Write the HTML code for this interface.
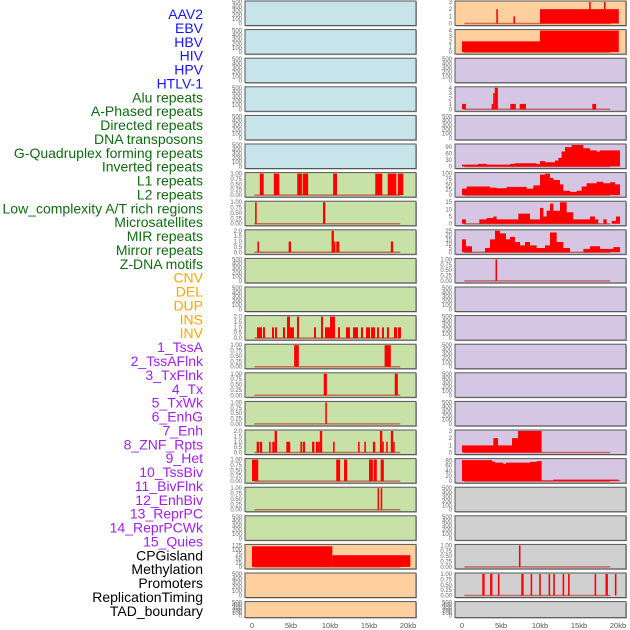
<!DOCTYPE html>
<html><head><meta charset="utf-8"><style>
body{margin:0;background:#fff;width:630px;height:630px;overflow:hidden}
svg{display:block}
</style></head><body>
<svg id="chart" width="630" height="630" viewBox="0 0 630 630" xmlns="http://www.w3.org/2000/svg"></svg>
<script>
const trackLabels=["AAV2","EBV","HBV","HIV","HPV","HTLV-1","Alu repeats","A-Phased repeats","Directed repeats","DNA transposons","G-Quadruplex forming repeats","Inverted repeats","L1 repeats","L2 repeats","Low_complexity A/T rich regions","Microsatellites","MIR repeats","Mirror repeats","Z-DNA motifs","CNV","DEL","DUP","INS","INV","1_TssA","2_TssAFlnk","3_TxFlnk","4_Tx","5_TxWk","6_EnhG","7_Enh","8_ZNF_Rpts","9_Het","10_TssBiv","11_BivFlnk","12_EnhBiv","13_ReprPC","14_ReprPCWk","15_Quies","CPGisland","Methylation","Promoters","ReplicationTiming","TAD_boundary"];
const labelGroupSizes=[6,13,5,15,5];
const labelGroupColors=["#1414ff","#106b10","#ffa500","#a020f0","#000000"];
const xTicks=[0,5,10,15,20];
const xTickLabels=["0","5kb","10kb","15kb","20kb"];
const leftColors=["#c8e4eb","#c8e4eb","#c8e4eb","#c8e4eb","#c8e4eb","#c8e4eb","#c8e1a6","#c8e1a6","#c8e1a6","#c8e1a6","#c8e1a6","#c8e1a6","#c8e1a6","#c8e1a6","#c8e1a6","#c8e1a6","#c8e1a6","#c8e1a6","#c8e1a6","#ffcf9d","#ffcf9d","#ffcf9d"];
const rightColors=["#ffcf9d","#ffcf9d","#d5c7e3","#d5c7e3","#d5c7e3","#d5c7e3","#d5c7e3","#d5c7e3","#d5c7e3","#d5c7e3","#d5c7e3","#d5c7e3","#d5c7e3","#d5c7e3","#d5c7e3","#d5c7e3","#d5c7e3","#d0d0d0","#d0d0d0","#d0d0d0","#d0d0d0","#d0d0d0"];
// left bars [start kb, end kb, value]
const L6=[[1.0,1.5,1],[2.8,3.5,1],[5.8,6.4,1],[6.5,7.2,1],[10.4,10.9,1],[15.8,16.7,1],[17.4,18.5,1],[18.7,19.4,1]];
const L7=[[0.4,0.6,1],[9.1,9.4,1]];
const L8=[[0.7,0.9,1],[4.7,5.0,1],[10.2,10.5,2],[10.5,10.6,1],[10.8,11.2,1],[17.8,18.1,1]];
const L11=[[0.64,1.28,1],[1.41,1.67,1],[2.56,2.82,1],[2.95,3.2,1],[3.97,4.23,1],[4.49,4.87,2],[4.87,5.38,1],[5.77,6.03,2],[7.95,8.2,1],[8.85,9.1,2],[9.36,10.0,1],[10.0,10.26,2],[10.26,10.64,2],[11.03,11.28,1],[12.05,12.56,1],[12.95,13.59,1],[13.97,14.23,1],[14.62,15.13,1],[15.26,15.77,1],[16.03,16.28,1],[16.67,16.92,1],[17.3,17.56,1],[18.2,18.59,1],[18.72,19.1,1]];
const L12=[[5.4,6.0,1],[17.0,17.8,1]];
const L13=[[9.2,9.6,1],[18.3,18.7,1]];
const L14=[[9.4,9.6,1]];
const L15=[[0.6,0.9,1],[1.0,1.3,1],[2.2,2.4,1],[2.6,2.9,1],[2.9,3.2,2],[4.4,4.9,1],[6.2,6.4,1],[6.5,6.8,1],[7.7,8.0,1],[8.2,8.5,1],[8.5,8.7,1],[8.7,9.0,2],[10.4,10.6,1],[13.6,13.8,1],[14.4,14.6,1],[15.5,15.8,1],[16.4,16.7,2],[16.7,16.9,1],[17.2,17.4,1],[17.8,18.1,2],[18.1,18.3,1]];
const L16=[[0.0,0.8,1],[10.8,11.3,1],[11.8,12.2,1],[15.0,15.5,1],[15.6,16.0,1],[16.5,16.9,1]];
const L17=[[16.1,16.3,1],[16.5,16.7,1]];
const L19=[[0.0,10.3,120],[10.3,20.3,68]];
// right bars
const R0=[[4.4,4.6,2],[6.6,6.8,1],[10.0,20.1,2],[16.3,16.5,3],[18.2,18.4,3]];
const R1=[[0.0,10.0,2],[10.0,20.1,4]];
const R3=[[0.0,0.5,1],[3.8,4.1,1],[4.0,4.2,3],[4.2,4.6,4],[6.2,6.9,1],[7.4,8.2,1],[16.7,17.2,1]];
const R9=[[4.3,4.5,1]];
const R19=[[7.3,7.5,1]];
const R20=[[2.6,2.9,1],[3.6,3.9,1],[4.6,4.8,1],[7.6,7.9,1],[8.8,9.0,1],[9.9,10.1,1],[11.1,11.3,1],[11.7,11.9,1],[12.9,13.1,1],[13.6,13.8,1],[17.0,17.2,1],[18.4,18.7,1],[19.6,19.8,1]];
// right step series: edges (kb) and values
const R5edges=[0,2.05,3.16,6.15,6.79,9.57,10.0,10.64,11.28,11.92,12.35,12.77,13.2,14.06,15.56,16.41,17.27,17.69,18.33,20.26];
const R5vals=[9,12,9,12,15,11,25,20,20,28,40,70,90,100,85,75,70,75,75];
const R6edges=[0,0.6,3.59,4.44,5.73,8.29,9.15,10.0,10.64,11.28,11.71,12.56,12.99,13.85,14.7,15.34,15.98,17.27,18.12,18.97,19.62,20.26];
const R6vals=[30,40,35,32,38,30,45,95,100,80,70,50,20,15,20,40,55,62,55,60,50];
const R7edges=[0,0.51,2.22,3.16,4.02,4.44,7.22,8.72,10.0,10.43,10.85,11.28,11.71,12.56,13.42,14.27,16.41,17.05,17.48,18.12,18.55,19.19,19.74,20.26];
const R7vals=[3,0,3,4,5,3,7,3,11,5,9,14,9,15,8,3,5,3,0,3,0,2,5];
const R8edges=[0,0.51,1.28,2.95,3.59,4.23,4.87,5.64,6.15,6.79,7.44,8.08,8.72,9.57,10.64,11.28,12.14,12.99,13.85,15.56,16.41,17.69,19.4,20.26];
const R8vals=[15,7,0,5,15,25,22,15,18,12,8,12,8,5,8,23,12,5,0,4,7,4,6];
const R15edges=[0,4.02,4.62,6.41,7.18,10.21,20.26];
const R15vals=[1,2,1,2,3,0];
const R16edges=[0,3.85,4.23,5.3,5.64,8.72,9.57,10.21,11.71,20.04,20.26];
const R16vals=[82,76,72,68,72,75,78,3,6,3];

const T500=[0,100,200,300,400,500], T1=[0,0.25,0.5,0.75,1], T2=[0,0.5,1,1.5,2];
const NS="http://www.w3.org/2000/svg";
const svg=document.getElementById('chart');
function mk(tag,attrs,parent){const e=document.createElementNS(NS,tag);for(const k in attrs)e.setAttribute(k,attrs[k]);(parent||svg).appendChild(e);return e;}

// labels
let li=0;
labelGroupSizes.forEach((n,g)=>{for(let i=0;i<n;i++){const t=mk('text',{x:203,y:19+13.88*li,'text-anchor':'end','font-family':'Liberation Sans, sans-serif','font-size':'14',fill:labelGroupColors[g]});t.textContent=trackLabels[li];


li++;}});

function panelSpec(col,r){
  const defs=col===0?{6:[L6,T1,1],7:[L7,T1,1],8:[L8,T2,2],11:[L11,T2,2],12:[L12,T1,1],13:[L13,T1,1],14:[L14,T1,1],15:[L15,T2,2],16:[L16,T1,1],17:[L17,T1,1],19:[L19,[0,25,50,75,100,125],125]}
  :{0:[R0,[0,1,2,3],3],1:[R1,[0,1,2,3,4],4],3:[R3,[0,1,2,3,4],4],9:[R9,T1,1],19:[R19,T1,1],20:[R20,T1,1],
    5:[null,[0,30,60,90],100,R5edges,R5vals],6:[null,[0,25,50,75,100],100,R6edges,R6vals],7:[null,[0,5,10,15],15,R7edges,R7vals],8:[null,[0,5,10,15,20,25],25,R8edges,R8vals],15:[null,[0,1,2,3],3,R15edges,R15vals],16:[null,[0,20,40,60,80],84,R16edges,R16vals]};
  return defs[r]||null;
}
function fmt(v,ticks){const step=ticks[1]-ticks[0];if(step<0.5)return v.toFixed(2);if(step<1)return v.toFixed(1);return String(v);}

for(let col=0;col<2;col++){
  const px0=col===0?245:455, pw=171, x0=col===0?252:462, kbw=7.8;
  const xs=kb=>x0+kb*kbw;
  for(let r=0;r<22;r++){
    const top=1+28.6*r, h=r===21?16:24.5;
    const g=mk('g',{});
    
    
    mk('rect',{x:px0+1,y:top+1,width:pw,height:h,fill:'#aaa'},g);
    mk('rect',{x:px0,y:top,width:pw,height:h,fill:(col===0?leftColors:rightColors)[r],stroke:'#555','stroke-width':1},g);
    const spec=panelSpec(col,r);
    const ticks=spec?spec[1]:T500, ymax=spec?spec[2]:500;
    const yb=top+h-2, yt=top+1;
    const ys=v=>yb-(v/ymax)*(yb-yt);
    ticks.forEach(tv=>{const t=mk('text',{x:px0-3,y:ys(tv)+2,'text-anchor':'end','font-family':'Liberation Sans, sans-serif','font-size':'6',fill:'#666'},g);t.textContent=fmt(tv,ticks);
      
      });
    if(spec){
      mk('line',{x1:xs(0.3),x2:xs(19.0),y1:yb,y2:yb,stroke:'rgba(190,60,60,0.7)','stroke-width':1.5},g);
      if(spec[0]){spec[0].forEach(b=>{const rc=mk('rect',{x:xs(b[0]),y:ys(b[2]),width:Math.max(1.5,xs(b[1])-xs(b[0])),height:yb-ys(b[2]),fill:'#ff0000'},g);
        
        });}
      else{const E=spec[3],V=spec[4];let d='M'+xs(E[0])+','+yb;
        for(let i=0;i<V.length;i++){d+=' L'+xs(E[i])+','+ys(V[i])+' L'+xs(E[i+1])+','+ys(V[i]);}
        d+=' L'+xs(E[E.length-1])+','+yb+' Z';
        const p=mk('path',{d:d,fill:'#ff0000'},g);
        
        }
    }
  }
  xTicks.forEach((kb,i)=>{const t=mk('text',{x:xs(kb),y:628,'text-anchor':'middle','font-family':'Liberation Sans, sans-serif','font-size':'7.5',fill:'#555'});t.textContent=xTickLabels[i];
    
    });
}
</script>
</body></html>
